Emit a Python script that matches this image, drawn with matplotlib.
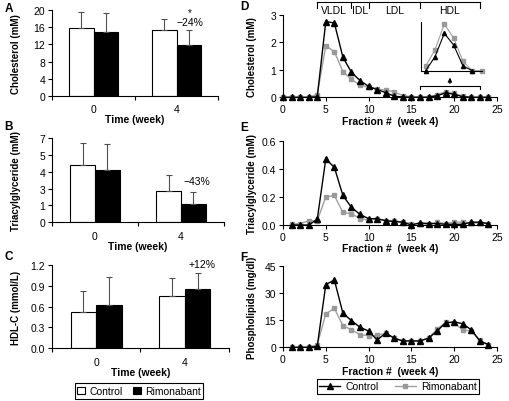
import numpy as np
import matplotlib.pyplot as plt
from matplotlib.patches import Patch
from matplotlib.lines import Line2D

plt.rcParams['font.family'] = ['Liberation Sans', 'DejaVu Sans']
plt.rcParams['font.size'] = 7.5
plt.rcParams['axes.linewidth'] = 0.8

W, H = 510, 402

# ---- left column: plasma lipids, mean and upper error ----
weeks = ['0', '4']
chol_ctrl = [15.8, 15.3]
chol_ctrl_err = [3.8, 2.7]
chol_rimo = [14.9, 11.9]
chol_rimo_err = [4.5, 3.4]

tg_ctrl = [4.76, 2.57]
tg_ctrl_err = [1.83, 1.39]
tg_rimo = [4.37, 1.52]
tg_rimo_err = [2.13, 0.97]

hdl_ctrl = [0.52, 0.75]
hdl_ctrl_err = [0.30, 0.26]
hdl_rimo = [0.63, 0.86]
hdl_rimo_err = [0.40, 0.23]

# ---- right column: FPLC profiles at week 4 ----
frac = np.arange(0, 25)
d_ctrl = [0, 0, 0, 0, 0.02, 2.76, 2.71, 1.46, 0.91, 0.61, 0.40, 0.28, 0.17,
          0.04, 0.01, 0.0, 0.0, 0.0, 0.06, 0.16, 0.11, 0.02, 0.0, 0.0, 0.0]
d_rimo = [0, 0, 0, 0, 0.10, 1.88, 1.66, 0.94, 0.65, 0.45, 0.36, 0.30, 0.26,
          0.20, 0.06, 0.02, 0.01, 0.02, 0.09, 0.20, 0.14, 0.04, 0.0, 0.0, 0.0]

e_ctrl = [0.0, 0.0, 0.0, 0.04, 0.47, 0.41, 0.21, 0.125, 0.075, 0.045, 0.045, 0.03,
          0.025, 0.02, 0.0, 0.015, 0.01, 0.01, 0.005, 0.005, 0.005, 0.02, 0.02, 0.01]
e_rimo = [0.005, 0.01, 0.03, 0.03, 0.20, 0.21, 0.09, 0.08, 0.045, 0.035, 0.045, 0.03,
          0.03, 0.02, 0.01, 0.01, 0.005, 0.02, 0.01, 0.02, 0.02, 0.015, 0.015, 0.01]

f_ctrl = [0, 0, 0, 0.5, 34.6, 37.1, 18.8, 14.7, 11, 9, 4, 7.9,
          5, 3.5, 3.5, 3.5, 5, 9, 13.5, 14, 13, 9.6, 3.5, 1.5]
f_rimo = [0, 0, 0, 1.5, 18.4, 21.5, 12, 9.6, 7, 6.4, 6.6, 7.7,
          5, 3.5, 3.5, 3.5, 5.1, 10, 13.8, 13.4, 9.6, 9, 3.9, 1.1]

GRAY = '#a0a0a0'


def rect(x0, x1, y0, y1):
    # pixel box -> figure fraction
    return [x0 / W, 1 - y1 / H, (x1 - x0) / W, (y1 - y0) / H]


fig = plt.figure(figsize=(W / 100, H / 100), dpi=100)


def place_ylabel(ax, px):
    # put the y label centre at a fixed pixel column
    x0 = ax.get_position().x0 * W
    w = ax.get_position().width * W
    ax.yaxis.set_label_coords((px - x0) / w, 0.5)


def bar_panel(box, ctrl, ctrl_err, rimo, rimo_err, ymax, yticks, ylabels, ylabel):
    ax = fig.add_axes(box)
    x = np.arange(len(weeks))
    w = 0.29
    ax.bar(x - w / 2, ctrl, w, color='white', edgecolor='black', lw=0.8)
    ax.bar(x + w / 2, rimo, w, color='black', edgecolor='black', lw=0.8)
    ax.errorbar(x - w / 2, ctrl, yerr=[np.zeros(2), ctrl_err], fmt='none',
                ecolor='#505050', elinewidth=0.8, capsize=2.5, capthick=0.8)
    ax.errorbar(x + w / 2, rimo, yerr=[np.zeros(2), rimo_err], fmt='none',
                ecolor='#505050', elinewidth=0.8, capsize=2.5, capthick=0.8)
    ax.set_xlim(-0.5, 1.5)
    ax.set_ylim(0, ymax)
    ax.set_xticks(x, weeks)
    ax.set_xticks([-0.5, 0.5, 1.5], minor=True)
    ax.tick_params(axis='x', which='major', length=0, pad=6)
    ax.tick_params(axis='x', which='minor', length=3, width=0.8)
    ax.set_yticks(yticks, ylabels)
    ax.tick_params(axis='y', length=3, width=0.8, pad=2)
    ax.spines[['top', 'right']].set_visible(False)
    ax.set_xlabel('Time (week)', fontweight='bold', fontsize=7.5, labelpad=0)
    ax.set_ylabel(ylabel, fontweight='bold', fontsize=7)
    place_ylabel(ax, 21)
    return ax


axA = bar_panel(rect(52, 218, 11, 97), chol_ctrl, chol_ctrl_err, chol_rimo, chol_rimo_err,
                20, [0, 4, 8, 12, 16, 20], ['0', '4', '8', '12', '16', '20'], 'Cholesterol (mM)')
axA.text(1.16, 19.5, '*', ha='center', va='center', fontsize=7)
axA.text(1.16, 17.2, '\u221224%', ha='center', va='center', fontsize=7.5)

axB = bar_panel(rect(52, 224, 139, 223.3), tg_ctrl, tg_ctrl_err, tg_rimo, tg_rimo_err,
                7, [0, 1.4, 2.8, 4.2, 5.6, 7], ['0', '1', '3', '4', '5', '7'], 'Triacylglyceride (mM)')
axB.text(1.19, 3.43, '\u221243%', ha='center', va='center', fontsize=7.5)

axC = bar_panel(rect(52, 229, 266, 349.3), hdl_ctrl, hdl_ctrl_err, hdl_rimo, hdl_rimo_err,
                1.2, [0, 0.3, 0.6, 0.9, 1.2], ['0.0', '0.3', '0.6', '0.9', '1.2'], 'HDL-C (mmol/L)')
axC.text(1.19, 1.21, '+12%', ha='center', va='center', fontsize=7.5, clip_on=False)


def line_panel(box, xc, ctrl, xr, rimo, ymax, yticks, ylabels, ylabel):
    ax = fig.add_axes(box)
    ax.plot(xr, rimo, color=GRAY, lw=1, marker='s', ms=3.5, mfc='#999999', mec='#999999', clip_on=False)
    ax.plot(xc, ctrl, color='black', lw=1, marker='^', ms=4, clip_on=False)
    ax.set_xlim(0, 25)
    ax.set_ylim(0, ymax)
    ax.set_xticks([0, 5, 10, 15, 20, 25])
    ax.set_yticks(yticks, ylabels)
    ax.tick_params(length=3, width=0.8, pad=2)
    ax.spines[['top', 'right']].set_visible(False)
    ax.set_xlabel('Fraction #  (week 4)', fontweight='bold', fontsize=7.5, labelpad=1)
    ax.set_ylabel(ylabel, fontweight='bold', fontsize=7)
    place_ylabel(ax, 257)
    return ax


axD = line_panel(rect(283, 497, 16, 98.3), frac, d_ctrl, frac, d_rimo,
                 3, [0, 1, 2, 3], ['0', '1', '2', '3'], 'Cholesterol (mM)')
axE = line_panel(rect(283, 497, 141.7, 226), frac[1:], e_ctrl, frac[1:], e_rimo,
                 0.6, [0, 0.2, 0.4, 0.6], ['0.0', '0.2', '0.4', '0.6'], 'Triacylglyceride (mM)')
axF = line_panel(rect(283, 497, 266.7, 348.3), frac[1:], f_ctrl, frac[1:], f_rimo,
                 45, [0, 15, 30, 45], ['0', '15', '30', '45'], 'Phospholipids (mg/dl)')

# lipoprotein class brackets over panel D
bounds = [4, 8, 10, 16, 23]
classes = ['VLDL', 'IDL', 'LDL', 'HDL']
axD.plot([bounds[0], bounds[-1]], [3.47, 3.47], color='black', lw=0.8, clip_on=False)
for b in bounds:
    axD.plot([b, b], [3.47, 3.24], color='black', lw=0.8, clip_on=False)
for name, a, b in zip(classes, bounds[:-1], bounds[1:]):
    axD.text((a + b) / 2, 3.2, name, ha='center', va='center', fontsize=7.5)

# bracket + arrow pointing to the HDL inset
axD.plot([16, 16, 23, 23], [0.30, 0.40, 0.40, 0.30], color='black', lw=0.8, clip_on=False)
axD.annotate('', xy=(19.5, 0.82), xytext=(19.5, 0.40), annotation_clip=False,
             arrowprops=dict(arrowstyle='-|>', color='black', lw=0.8, mutation_scale=6))

ins = fig.add_axes(rect(420.7, 481.7, 22.7, 71.7))
ins.plot(frac[17:24], d_rimo[17:24], color=GRAY, lw=0.8, marker='s', ms=2.5,
         mfc='#999999', mec='#999999', clip_on=False)
ins.plot(frac[17:23], d_ctrl[17:23], color='black', lw=0.8, marker='^', ms=3, clip_on=False)
ins.set_xlim(16.47, 23)
ins.set_ylim(0, 0.21)
ins.set_xticks([])
ins.set_yticks([])
ins.spines[['top', 'right']].set_visible(False)
ins.patch.set_alpha(0)

# panel letters
for letter, px, py in [('A', 9, 9), ('B', 9, 127), ('C', 9, 257),
                       ('D', 244, 7), ('E', 244, 128), ('F', 244, 258)]:
    fig.text(px / W, 1 - py / H, letter, fontweight='bold', fontsize=8.5, ha='center', va='center')

# legends
bar_handles = [Patch(facecolor='white', edgecolor='black', lw=0.8),
               Patch(facecolor='black', edgecolor='black', lw=0.8)]
leg1 = fig.legend(bar_handles, ['Control', 'Rimonabant'], loc='center',
                  bbox_to_anchor=(139 / W, 1 - 392 / H), ncol=2, fontsize=7.5,
                  frameon=True, fancybox=False, edgecolor='black', framealpha=1,
                  handlelength=0.75, handleheight=0.75, handletextpad=0.4,
                  columnspacing=1.0, borderpad=0.25)
leg1.get_frame().set_linewidth(0.8)

line_handles = [Line2D([], [], color='black', lw=1, marker='^', ms=4),
                Line2D([], [], color=GRAY, lw=1, marker='s', ms=3.5, mfc='#999999', mec='#999999')]
leg2 = fig.legend(line_handles, ['Control', 'Rimonabant'], loc='center',
                  bbox_to_anchor=(398 / W, 1 - 387.5 / H), ncol=2, fontsize=7.5,
                  frameon=True, fancybox=False, edgecolor='black', framealpha=1,
                  handlelength=2.0, handletextpad=0.5, columnspacing=1.6, borderpad=0.25)
leg2.get_frame().set_linewidth(0.8)

fig.savefig('out.png', dpi=100)
